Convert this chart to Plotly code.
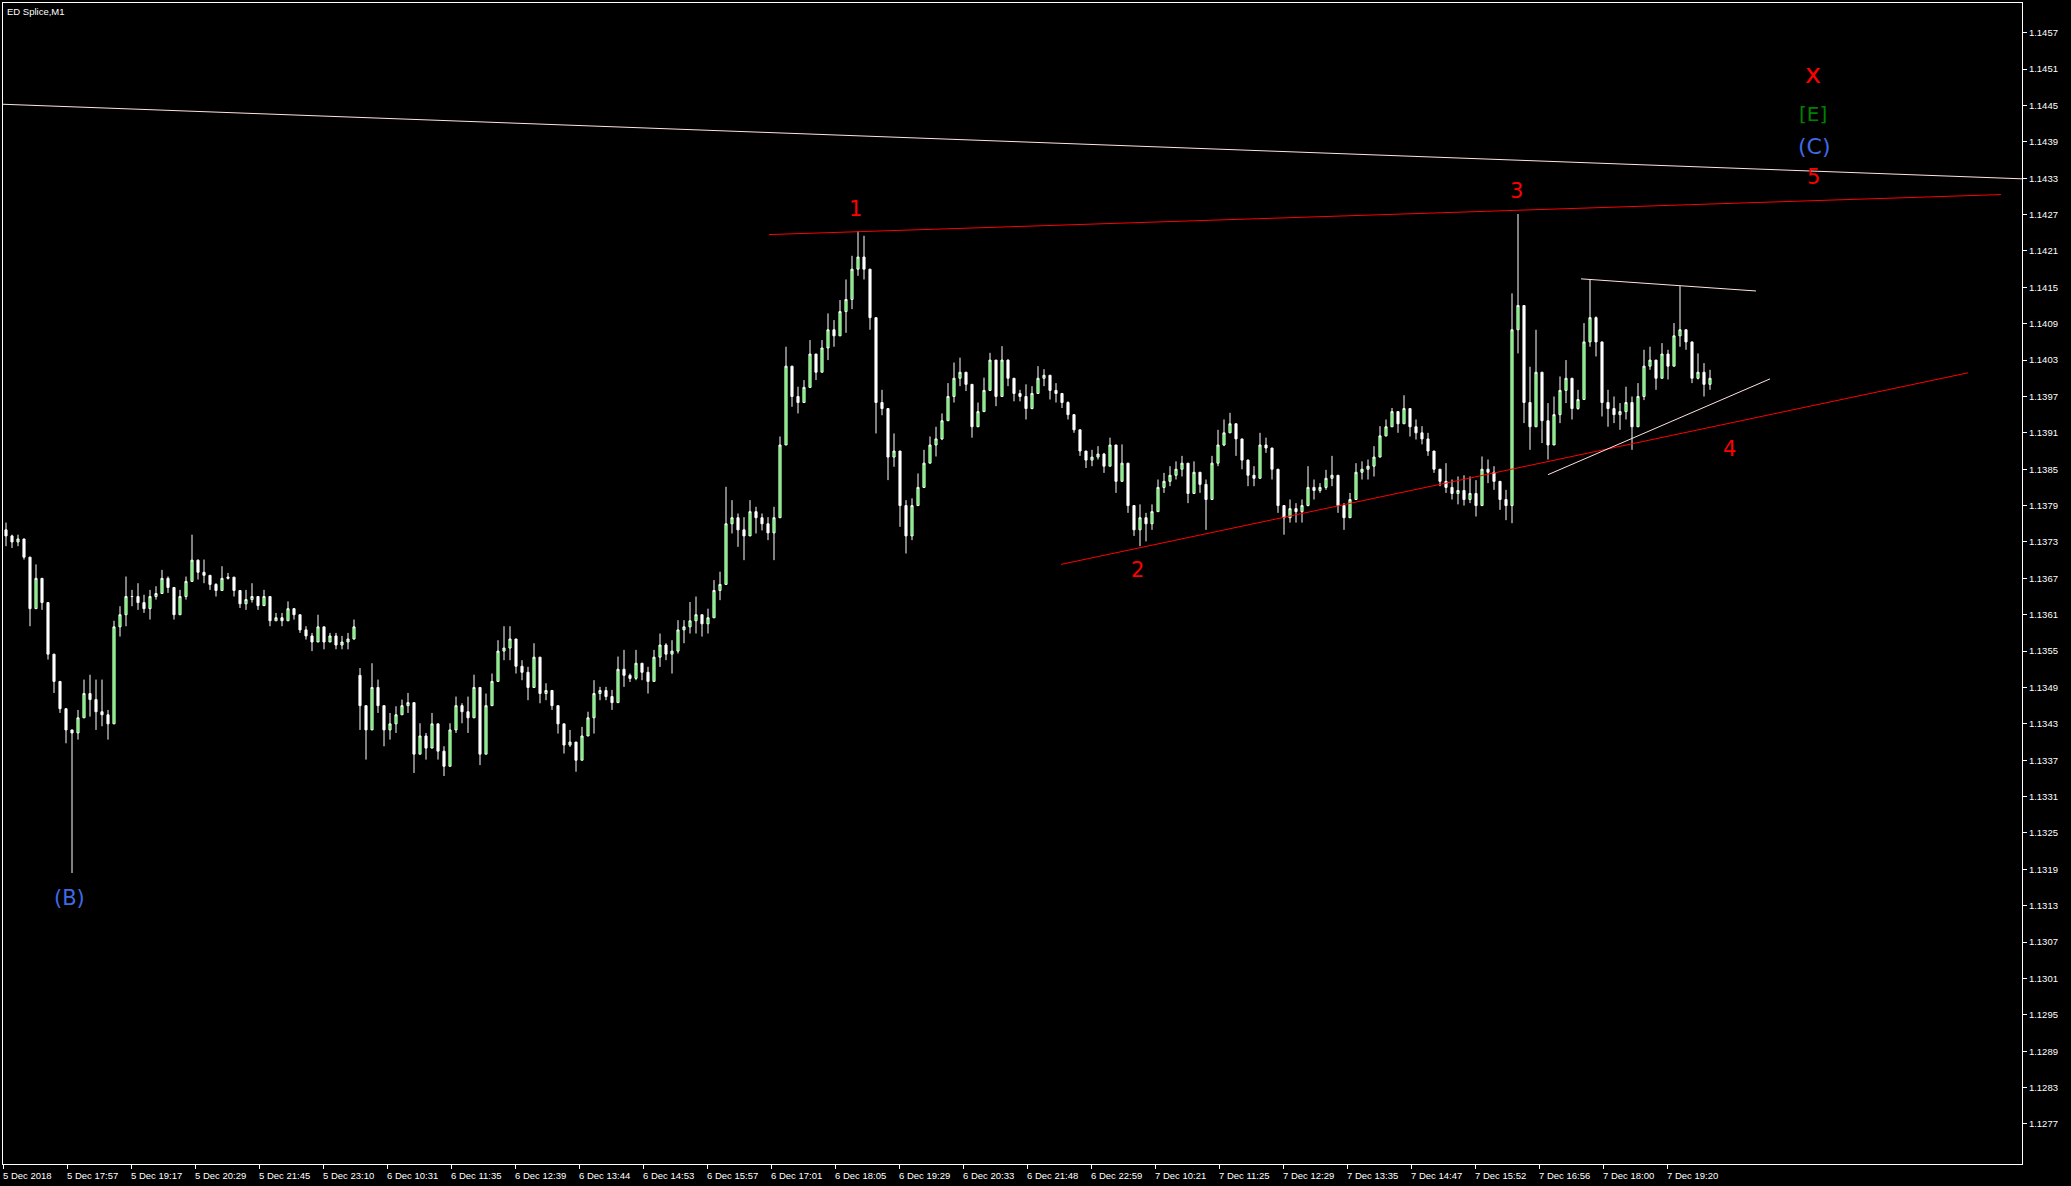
import plotly.graph_objects as go

TITLE = "ED Splice,M1"
BAR_MINUTES = 6          # each candle below aggregates 6 one-minute bars
LABEL_EVERY = 64         # minutes between time labels on the axis
FIRST_OPEN = 1.13750
GAP_OPENS = {59: 1.13510}  # bars whose open is not the previous close (overnight gap)

HIGH = [
    1.13762, 1.13742, 1.13742, 1.13715, 1.13693, 1.13693, 1.13668, 1.13596, 1.13522, 1.13492,
    1.13442, 1.13420, 1.13453, 1.13503, 1.13511, 1.13503, 1.13503, 1.13453, 1.13600, 1.13624,
    1.13673, 1.13651, 1.13662, 1.13643, 1.13651, 1.13657, 1.13684, 1.13673, 1.13630, 1.13651,
    1.13673, 1.13742, 1.13701, 1.13701, 1.13673, 1.13662, 1.13690, 1.13679, 1.13668, 1.13640,
    1.13651, 1.13662, 1.13640, 1.13651, 1.13613, 1.13613, 1.13613, 1.13632, 1.13621, 1.13602,
    1.13591, 1.13580, 1.13610, 1.13580, 1.13580, 1.13580, 1.13575, 1.13580, 1.13602, 1.13522,
    1.13459, 1.13530, 1.13503, 1.13459, 1.13448, 1.13459, 1.13470, 1.13481, 1.13437, 1.13431,
    1.13415, 1.13448, 1.13404, 1.13393, 1.13431, 1.13475, 1.13464, 1.13475, 1.13511, 1.13441,
    1.13480, 1.13513, 1.13568, 1.13591, 1.13591, 1.13552, 1.13535, 1.13524, 1.13563, 1.13502,
    1.13497, 1.13486, 1.13453, 1.13425, 1.13420, 1.13392, 1.13425, 1.13450, 1.13502, 1.13491,
    1.13491, 1.13486, 1.13541, 1.13552, 1.13513, 1.13552, 1.13530, 1.13524, 1.13552, 1.13579,
    1.13563, 1.13568, 1.13601, 1.13601, 1.13631, 1.13640, 1.13607, 1.13620, 1.13667, 1.13681,
    1.13821, 1.13799, 1.13777, 1.13771, 1.13799, 1.13788, 1.13777, 1.13771, 1.13788, 1.13904,
    1.14052, 1.14003, 1.13986, 1.13997, 1.14063, 1.14030, 1.14063, 1.14107, 1.14096, 1.14129,
    1.14163, 1.14202, 1.14243, 1.14235, 1.14174, 1.14080, 1.13981, 1.13909, 1.13909, 1.13832,
    1.13799, 1.13802, 1.13843, 1.13882, 1.13904, 1.13920, 1.13942, 1.13992, 1.14026, 1.14034,
    1.14004, 1.13970, 1.13960, 1.14001, 1.14042, 1.14001, 1.14053, 1.14031, 1.13990, 1.13981,
    1.13990, 1.13987, 1.14020, 1.14015, 1.13998, 1.13992, 1.13970, 1.13962, 1.13932, 1.13902,
    1.13877, 1.13882, 1.13888, 1.13877, 1.13902, 1.13872, 1.13891, 1.13860, 1.13773, 1.13792,
    1.13778, 1.13792, 1.13833, 1.13844, 1.13855, 1.13863, 1.13872, 1.13855, 1.13863, 1.13838,
    1.13833, 1.13872, 1.13915, 1.13932, 1.13943, 1.13921, 1.13888, 1.13866, 1.13855, 1.13910,
    1.13902, 1.13882, 1.13822, 1.13789, 1.13800, 1.13794, 1.13800, 1.13855, 1.13833, 1.13827,
    1.13849, 1.13872, 1.13811, 1.13794, 1.13811, 1.13860, 1.13863, 1.13866, 1.13888, 1.13921,
    1.13932, 1.13951, 1.13943, 1.13972, 1.13938, 1.13932, 1.13921, 1.13910, 1.13863, 1.13844,
    1.13860, 1.13833, 1.13838, 1.13840, 1.13838, 1.13832, 1.13871, 1.13866, 1.13855, 1.13827,
    1.13816, 1.14140, 1.14271, 1.14025, 1.14019, 1.14080, 1.14003, 1.13959, 1.13970, 1.14003,
    1.14030, 1.13981, 1.13981, 1.14091, 1.14163, 1.14102, 1.14003, 1.13981, 1.13970, 1.13959,
    1.13986, 1.13970, 1.13992, 1.14047, 1.14052, 1.14025, 1.14058, 1.14047, 1.14091, 1.14152,
    1.14074, 1.14052, 1.14041, 1.14025, 1.14014,
]

LOW = [
    1.13723, 1.13720, 1.13723, 1.13701, 1.13591, 1.13635, 1.13618, 1.13536, 1.13481, 1.13448,
    1.13398, 1.13184, 1.13404, 1.13448, 1.13442, 1.13420, 1.13426, 1.13404, 1.13459, 1.13574,
    1.13591, 1.13624, 1.13618, 1.13613, 1.13602, 1.13635, 1.13657, 1.13646, 1.13602, 1.13618,
    1.13635, 1.13673, 1.13668, 1.13662, 1.13651, 1.13640, 1.13651, 1.13668, 1.13640, 1.13621,
    1.13618, 1.13630, 1.13618, 1.13630, 1.13591, 1.13602, 1.13591, 1.13602, 1.13602, 1.13580,
    1.13569, 1.13550, 1.13580, 1.13553, 1.13569, 1.13553, 1.13553, 1.13553, 1.13569, 1.13420,
    1.13371, 1.13448, 1.13448, 1.13393, 1.13404, 1.13415, 1.13448, 1.13448, 1.13349, 1.13393,
    1.13371, 1.13404, 1.13371, 1.13344, 1.13393, 1.13415, 1.13431, 1.13415, 1.13448, 1.13362,
    1.13420, 1.13469, 1.13524, 1.13535, 1.13535, 1.13513, 1.13502, 1.13469, 1.13508, 1.13464,
    1.13469, 1.13453, 1.13414, 1.13381, 1.13392, 1.13351, 1.13398, 1.13414, 1.13414, 1.13469,
    1.13469, 1.13453, 1.13486, 1.13491, 1.13499, 1.13502, 1.13502, 1.13480, 1.13519, 1.13524,
    1.13535, 1.13513, 1.13546, 1.13563, 1.13579, 1.13579, 1.13574, 1.13579, 1.13617, 1.13634,
    1.13689, 1.13744, 1.13722, 1.13700, 1.13749, 1.13744, 1.13749, 1.13733, 1.13700, 1.13788,
    1.13909, 1.13953, 1.13942, 1.13970, 1.14003, 1.13997, 1.14014, 1.14030, 1.14052, 1.14074,
    1.14075, 1.14114, 1.14169, 1.14163, 1.14080, 1.13909, 1.13939, 1.13832, 1.13854, 1.13755,
    1.13711, 1.13733, 1.13799, 1.13821, 1.13871, 1.13871, 1.13898, 1.13937, 1.13960, 1.13987,
    1.13979, 1.13902, 1.13932, 1.13954, 1.13993, 1.13954, 1.14020, 1.13987, 1.13962, 1.13962,
    1.13932, 1.13949, 1.13976, 1.13987, 1.13965, 1.13960, 1.13951, 1.13932, 1.13910, 1.13872,
    1.13852, 1.13855, 1.13866, 1.13844, 1.13869, 1.13811, 1.13844, 1.13778, 1.13740, 1.13723,
    1.13731, 1.13750, 1.13789, 1.13811, 1.13822, 1.13833, 1.13838, 1.13794, 1.13822, 1.13811,
    1.13750, 1.13833, 1.13855, 1.13888, 1.13910, 1.13872, 1.13850, 1.13822, 1.13822, 1.13860,
    1.13877, 1.13833, 1.13778, 1.13742, 1.13762, 1.13762, 1.13762, 1.13789, 1.13800, 1.13811,
    1.13816, 1.13822, 1.13778, 1.13750, 1.13789, 1.13811, 1.13833, 1.13833, 1.13838, 1.13877,
    1.13904, 1.13932, 1.13910, 1.13938, 1.13904, 1.13899, 1.13891, 1.13872, 1.13844, 1.13822,
    1.13811, 1.13800, 1.13792, 1.13790, 1.13794, 1.13772, 1.13816, 1.13827, 1.13816, 1.13783,
    1.13766, 1.13761, 1.14041, 1.13926, 1.13882, 1.13970, 1.13893, 1.13866, 1.13904, 1.13926,
    1.13959, 1.13932, 1.13948, 1.13981, 1.14052, 1.14036, 1.13937, 1.13920, 1.13926, 1.13915,
    1.13932, 1.13882, 1.13920, 1.13964, 1.14014, 1.13981, 1.14014, 1.13998, 1.14025, 1.14052,
    1.14047, 1.13992, 1.13998, 1.13970, 1.13981,
]

CLOSE = [
    1.13740, 1.13730, 1.13735, 1.13705, 1.13620, 1.13670, 1.13630, 1.13545, 1.13500, 1.13455,
    1.13420, 1.13415, 1.13440, 1.13480, 1.13470, 1.13450, 1.13445, 1.13430, 1.13590, 1.13610,
    1.13640, 1.13640, 1.13630, 1.13620, 1.13640, 1.13645, 1.13670, 1.13655, 1.13610, 1.13640,
    1.13665, 1.13700, 1.13680, 1.13675, 1.13660, 1.13650, 1.13670, 1.13672, 1.13650, 1.13628,
    1.13635, 1.13640, 1.13625, 1.13640, 1.13600, 1.13605, 1.13600, 1.13620, 1.13610, 1.13585,
    1.13575, 1.13565, 1.13590, 1.13565, 1.13575, 1.13560, 1.13565, 1.13570, 1.13590, 1.13460,
    1.13420, 1.13490, 1.13460, 1.13420, 1.13430, 1.13445, 1.13460, 1.13465, 1.13380, 1.13410,
    1.13390, 1.13430, 1.13385, 1.13360, 1.13420, 1.13460, 1.13450, 1.13440, 1.13490, 1.13380,
    1.13460, 1.13500, 1.13550, 1.13555, 1.13570, 1.13525, 1.13515, 1.13490, 1.13540, 1.13480,
    1.13485, 1.13460, 1.13430, 1.13395, 1.13400, 1.13370, 1.13410, 1.13440, 1.13480, 1.13485,
    1.13475, 1.13465, 1.13520, 1.13510, 1.13505, 1.13530, 1.13515, 1.13500, 1.13540, 1.13560,
    1.13545, 1.13550, 1.13585, 1.13590, 1.13600, 1.13610, 1.13595, 1.13605, 1.13650, 1.13660,
    1.13760, 1.13770, 1.13750, 1.13740, 1.13780, 1.13770, 1.13760, 1.13745, 1.13770, 1.13890,
    1.14020, 1.13970, 1.13960, 1.13985, 1.14040, 1.14010, 1.14050, 1.14080, 1.14070, 1.14110,
    1.14130, 1.14180, 1.14200, 1.14180, 1.14100, 1.13960, 1.13950, 1.13870, 1.13880, 1.13790,
    1.13740, 1.13790, 1.13820, 1.13860, 1.13890, 1.13900, 1.13930, 1.13970, 1.14000, 1.14010,
    1.13990, 1.13920, 1.13945, 1.13980, 1.14030, 1.13970, 1.14030, 1.14000, 1.13975, 1.13970,
    1.13950, 1.13975, 1.14000, 1.14005, 1.13980, 1.13975, 1.13960, 1.13940, 1.13915, 1.13880,
    1.13865, 1.13870, 1.13875, 1.13855, 1.13890, 1.13830, 1.13860, 1.13790, 1.13750, 1.13770,
    1.13760, 1.13780, 1.13820, 1.13830, 1.13840, 1.13850, 1.13860, 1.13810, 1.13845, 1.13825,
    1.13800, 1.13860, 1.13890, 1.13910, 1.13925, 1.13900, 1.13865, 1.13840, 1.13835, 1.13890,
    1.13885, 1.13850, 1.13790, 1.13770, 1.13785, 1.13780, 1.13790, 1.13820, 1.13815, 1.13820,
    1.13835, 1.13840, 1.13790, 1.13770, 1.13800, 1.13845, 1.13850, 1.13855, 1.13870, 1.13905,
    1.13920, 1.13945, 1.13925, 1.13950, 1.13920, 1.13910, 1.13900, 1.13880, 1.13850, 1.13830,
    1.13820, 1.13810, 1.13815, 1.13800, 1.13810, 1.13790, 1.13850, 1.13845, 1.13830, 1.13800,
    1.13790, 1.14080, 1.14120, 1.13960, 1.13920, 1.14010, 1.13930, 1.13890, 1.13940, 1.13980,
    1.14000, 1.13950, 1.13965, 1.14060, 1.14100, 1.14060, 1.13960, 1.13950, 1.13940, 1.13945,
    1.13960, 1.13920, 1.13970, 1.14020, 1.14030, 1.14000, 1.14040, 1.14020, 1.14070, 1.14080,
    1.14060, 1.14000, 1.14010, 1.13990, 1.14000,
]

TIME_LABELS = [
    "5 Dec 2018", "5 Dec 17:57", "5 Dec 19:17", "5 Dec 20:29", "5 Dec 21:45", "5 Dec 23:10",
    "6 Dec 10:31", "6 Dec 11:35", "6 Dec 12:39", "6 Dec 13:44", "6 Dec 14:53", "6 Dec 15:57",
    "6 Dec 17:01", "6 Dec 18:05", "6 Dec 19:29", "6 Dec 20:33", "6 Dec 21:48", "6 Dec 22:59",
    "7 Dec 10:21", "7 Dec 11:25", "7 Dec 12:29", "7 Dec 13:35", "7 Dec 14:47", "7 Dec 15:52",
    "7 Dec 16:56", "7 Dec 18:00", "7 Dec 19:20",
]

PRICE_TICKS = [
    "1.1277", "1.1283", "1.1289", "1.1295", "1.1301", "1.1307", "1.1313", "1.1319",
    "1.1325", "1.1331", "1.1337", "1.1343", "1.1349", "1.1355", "1.1361", "1.1367",
    "1.1373", "1.1379", "1.1385", "1.1391", "1.1397", "1.1403", "1.1409", "1.1415",
    "1.1421", "1.1427", "1.1433", "1.1439", "1.1445", "1.1451", "1.1457",
]

X_RANGE = [0, 2019]          # minutes shown (chart shift leaves empty space on the right)
Y_RANGE = [1.12704, 1.14619]

# trend lines: (minute0, price0, minute1, price1, colour)
TREND_LINES = [
    (0, 1.14452, 2019, 1.14329, "#FFE4E1"),
    (766, 1.14237, 1998, 1.14303, "#FF0000"),
    (1058, 1.13693, 1965, 1.14009, "#FF0000"),
    (1578, 1.14164, 1753, 1.14144, "#FFE4E1"),
    (1545, 1.13841, 1767, 1.13999, "#FFE4E1"),
]

# wave labels: (text, minute, price, colour, size)
WAVE_LABELS = [
    ("x", 1810, 1.14502, "#FF0000", 27),
    ("[E]", 1810, 1.14436, "#008000", 20),
    ("(C)", 1811, 1.14382, "#4169E1", 22),
    ("5", 1810, 1.14332, "#FF0000", 21),
    ("1", 852, 1.14280, "#FF0000", 21),
    ("2", 1134, 1.13684, "#FF0000", 21),
    ("3", 1513, 1.14309, "#FF0000", 21),
    ("4", 1726, 1.13884, "#FF0000", 21),
    ("(B)", 66, 1.13143, "#4169E1", 21),
]

n = min(len(HIGH), len(LOW), len(CLOSE))
x_vals = [BAR_MINUTES * i + BAR_MINUTES / 2 for i in range(n)]
opens = [FIRST_OPEN] + CLOSE[:n - 1]
for k, v in GAP_OPENS.items():
    opens[k] = v
highs = [max(HIGH[i], opens[i], CLOSE[i]) for i in range(n)]
lows = [min(LOW[i], opens[i], CLOSE[i]) for i in range(n)]

fig = go.Figure()
fig.add_trace(go.Candlestick(
    x=x_vals, open=opens, high=highs, low=lows, close=CLOSE[:n],
    increasing=dict(line=dict(color="#FFFFFF", width=1), fillcolor="#00FF00"),
    decreasing=dict(line=dict(color="#FFFFFF", width=1), fillcolor="#FFFFFF"),
    whiskerwidth=0, hoverinfo="skip", showlegend=False,
))

for x0, p0, x1, p1, col in TREND_LINES:
    fig.add_shape(type="line", xref="x", yref="y", x0=x0, y0=p0, x1=x1, y1=p1,
                  line=dict(color=col, width=1), layer="above")

annotations = []
for text, xm, pr, col, size in WAVE_LABELS:
    annotations.append(dict(x=xm, y=pr, xref="x", yref="y", text=text, showarrow=False,
                            font=dict(family="DejaVu Sans", size=size, color=col),
                            xanchor="center", yanchor="middle"))
for k, lab in enumerate(TIME_LABELS):
    annotations.append(dict(x=k * LABEL_EVERY, y=0, xref="x", yref="paper", text=lab,
                            showarrow=False, xanchor="left", yanchor="top", yshift=-4, xshift=-2,
                            font=dict(family="Liberation Sans", size=9.5, color="#FFFFFF")))
annotations.append(dict(x=0, y=1, xref="paper", yref="paper", text=TITLE, showarrow=False,
                        xanchor="left", yanchor="top", xshift=2, yshift=-1,
                        font=dict(family="Liberation Sans", size=9.5, color="#FFFFFF")))

fig.update_layout(
    width=2071, height=1186,
    margin=dict(l=3, r=49, t=3, b=22),
    paper_bgcolor="#000000", plot_bgcolor="#000000",
    boxgap=0.5,
    showlegend=False,
    annotations=annotations,
    xaxis=dict(range=X_RANGE, rangeslider=dict(visible=False), showgrid=False, zeroline=False,
               showline=True, linecolor="#FFFFFF", linewidth=1, mirror=True,
               tickmode="array", tickvals=[k * LABEL_EVERY for k in range(len(TIME_LABELS))],
               showticklabels=False, ticks="outside", ticklen=4, tickcolor="#FFFFFF"),
    yaxis=dict(range=Y_RANGE, side="right", showgrid=False, zeroline=False,
               showline=True, linecolor="#FFFFFF", linewidth=1, mirror=True,
               tickmode="array", tickvals=[float(s) for s in PRICE_TICKS], ticktext=PRICE_TICKS,
               ticks="outside", ticklen=4, tickcolor="#FFFFFF",
               tickfont=dict(family="Liberation Sans", size=9.5, color="#FFFFFF")),
)

fig.write_html(
    "out.html",
    config={"displayModeBar": False},
    post_script="document.body.style.margin='0';document.body.style.overflow='hidden';"
                "document.body.style.background='#000000';",
)
